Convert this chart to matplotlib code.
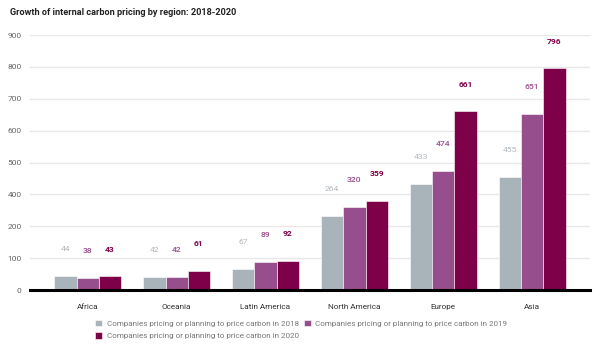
import numpy as np
import matplotlib
matplotlib.use("Agg")
import matplotlib.pyplot as plt

plt.rcParams['font.family'] = ['Roboto', 'DejaVu Sans']

regions = ["Africa", "Oceania", "Latin America", "North America", "Europe", "Asia"]
v2018 = [44, 42, 67, 264, 433, 455]
v2019 = [38, 42, 89, 320, 474, 651]
v2020 = [43, 61, 92, 359, 661, 796]
series_names = ["Companies pricing or planning to price carbon in 2018",
                "Companies pricing or planning to price carbon in 2019",
                "Companies pricing or planning to price carbon in 2020"]
yticks = [0, 100, 200, 400, 500, 600, 700, 800, 900]

colors = ["#a9b3ba", "#964f8c", "#7d0049"]
label_colors = ["#b3b9be", "#9a4f8e", "#7d0049"]
label_weights = ["normal", "medium", "bold"]


def fwd(v):
    v = np.asarray(v, dtype=float)
    return np.where(v <= 200, v, np.where(v <= 400, 200 + (v - 200) / 2, v - 100))


def inv(u):
    u = np.asarray(u, dtype=float)
    return np.where(u <= 200, u, np.where(u <= 300, 200 + (u - 200) * 2, u + 100))


fig = plt.figure(figsize=(6, 3.5), dpi=100)
ax = fig.add_axes([0.05, 0.1714, 0.9333, 0.7286])
ax.set_yscale('function', functions=(fwd, inv))

x = np.arange(len(regions))
w = 0.25
handles = []
for i, (vals, c) in enumerate(zip([v2018, v2019, v2020], colors)):
    xs = x + (i - 1) * w
    b = ax.bar(xs, vals, width=w, color=c, edgecolor='white', linewidth=0.4,
               label=series_names[i], zorder=3)
    handles.append(b)
    for xi, v in zip(xs, vals):
        ax.annotate(str(v), (xi, v), xytext=(0, 19.5), textcoords='offset points',
                    ha='center', va='center', fontsize=6.1, color=label_colors[i],
                    fontweight=label_weights[i])

ax.set_ylim(0, 900)
ax.set_xlim(-0.65, 5.65)
ax.set_yticks(yticks)
ax.set_yticklabels([str(t) for t in yticks])
ax.yaxis.grid(True, color='#e8e8e8', linewidth=1.0, zorder=0)
ax.tick_params(axis='y', length=0, pad=6, labelsize=6.0, labelcolor='#666666')
ax.set_xticks(x)
ax.set_xticklabels(regions)
ax.tick_params(axis='x', length=0, pad=10, labelsize=5.9, labelcolor='#333333')
for s in ['top', 'right', 'left']:
    ax.spines[s].set_visible(False)
ax.spines['bottom'].set_color('black')
ax.spines['bottom'].set_linewidth(2.2)
ax.spines['bottom'].set_zorder(4)

fig.text(10 / 600, 1 - 12.5 / 350, "Growth of internal carbon pricing by region: 2018-2020",
         fontsize=6.6, fontweight='bold', color='#222222', ha='left', va='center')

leg = fig.legend([handles[0], handles[2], handles[1]],
                 [series_names[0], series_names[2], series_names[1]],
                 ncol=2, loc='upper center', bbox_to_anchor=(0.502, 1 - 320 / 350),
                 frameon=False, fontsize=5.8, handlelength=0.85, handleheight=0.85,
                 handletextpad=0.6, columnspacing=0.6, labelspacing=0.65,
                 borderaxespad=0, borderpad=0)
for t in leg.get_texts():
    t.set_color('#777777')

fig.savefig("out.png", dpi=100)
